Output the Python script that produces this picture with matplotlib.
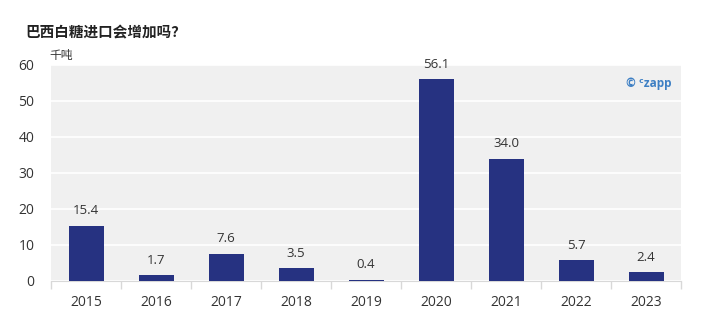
import matplotlib.pyplot as plt

plt.rcParams['font.family'] = ['Open Sans', 'Noto Sans CJK SC', 'DejaVu Sans']

years = ['2015', '2016', '2017', '2018', '2019', '2020', '2021', '2022', '2023']
imports = [15.4, 1.7, 7.6, 3.5, 0.4, 56.1, 34.0, 5.7, 2.4]

fig = plt.figure(figsize=(7.01, 3.35), dpi=100)
ax = fig.add_axes([51 / 701, 54 / 335, 630 / 701, 216 / 335])
ax.set_facecolor('#f0f0f0')

x = range(len(years))
ax.bar(x, imports, width=0.5, color='#263281', zorder=3)
for i, v in zip(x, imports):
    ax.annotate(f'{v:.1f}', (i, v), xytext=(0, 6), textcoords='offset points',
                ha='center', va='bottom', fontsize=9.5, color='#333333')

ax.set_xlim(-0.5, len(years) - 0.5)
ax.set_ylim(0, 60)
ax.set_yticks(range(0, 61, 10))
ax.grid(axis='y', color='white', linewidth=1.2, zorder=1)
ax.tick_params(axis='y', length=0, labelsize=10, colors='#333333', pad=12)

# category labels centred, tick marks on category boundaries
ax.set_xticks(list(x))
ax.set_xticklabels(years)
ax.tick_params(axis='x', length=0, labelsize=10, colors='#333333', pad=10)
ax.set_xticks([i - 0.5 for i in range(len(years) + 1)], minor=True)
ax.tick_params(axis='x', which='minor', length=6, color='#d8d8d8', width=1)

for s in ['top', 'right', 'left']:
    ax.spines[s].set_visible(False)
ax.spines['bottom'].set_color('#d8d8d8')

fig.text(25 / 701, 1 - 32 / 335, '巴西白糖进口会增加吗？', fontsize=10.5, fontweight='bold',
         color='#222222', va='center', family=['Noto Sans CJK SC', 'DejaVu Sans'])
fig.text(49 / 701, 1 - 56 / 335, '千吨', fontsize=8.5, color='#333333', va='center')
ax.text(0.985, 0.915, '© ᶜzapp', transform=ax.transAxes, ha='right', va='center',
        fontsize=8.5, fontweight='bold', color='#3d7fc4')

fig.savefig('out.png', dpi=100)
